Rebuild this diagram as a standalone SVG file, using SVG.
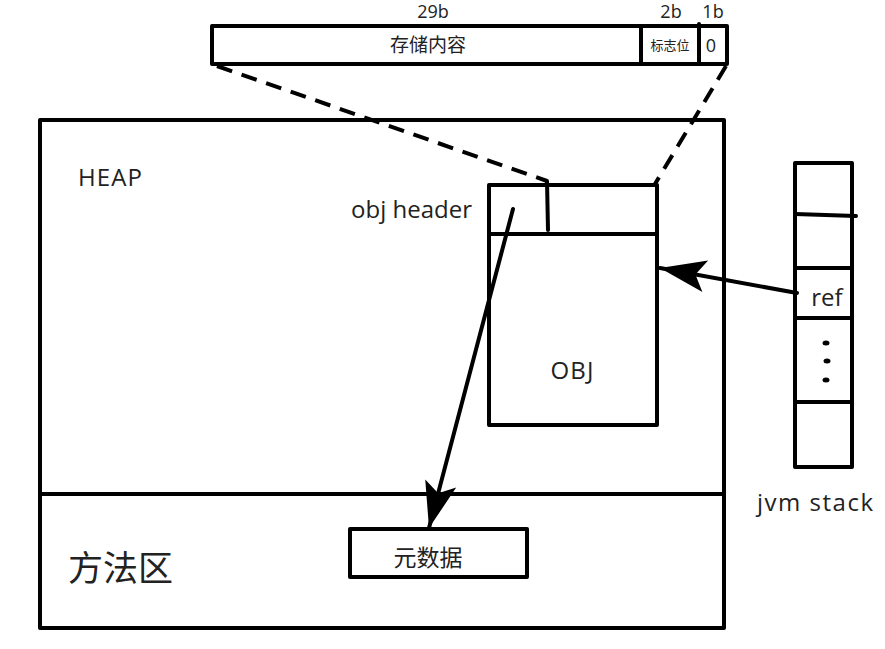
<svg xmlns="http://www.w3.org/2000/svg" width="885" height="649" viewBox="0 0 885 649">
<style>
.b{fill:#fff;stroke:#000;stroke-width:4;stroke-linejoin:round}
.l{fill:none;stroke:#000;stroke-width:4;stroke-linecap:round}
.d{fill:none;stroke:#000;stroke-width:4;stroke-dasharray:16,10}
text{font-family:"Open Sans","Noto Sans CJK SC",sans-serif;fill:#222}
</style>
<defs>
<marker id="ah" markerUnits="userSpaceOnUse" markerWidth="60" markerHeight="40" viewBox="-50 -20 60 40" refX="0" refY="0" orient="auto">
<path d="M0,0 L-46,-16 L-36,0 L-46,16 z" fill="#000"/>
</marker>
</defs>
<rect width="885" height="649" fill="#fff"/>
<g id="markword">
<rect class="b" x="212" y="26" width="515" height="38"/>
<line class="l" x1="641" y1="26" x2="641" y2="64"/>
<line class="l" x1="699" y1="24" x2="699" y2="64"/>
<text x="433" y="18" font-size="18" text-anchor="middle">29b</text>
<text x="671" y="18" font-size="18" text-anchor="middle">2b</text>
<text x="713" y="18" font-size="18" text-anchor="middle">1b</text>
<text x="428" y="52" font-size="19" text-anchor="middle">存储内容</text>
<text x="670" y="50" font-size="13" text-anchor="middle">标志位</text>
<text x="711" y="52" font-size="18" text-anchor="middle">0</text>
</g>
<g id="heap">
<rect class="b" x="40" y="120" width="684" height="508"/>
<line class="l" x1="40" y1="494" x2="724" y2="494"/>
<text x="78" y="186" font-size="24" textLength="64">HEAP</text>
<text x="68" y="581" font-size="35">方法区</text>
</g>
<g id="obj">
<rect class="b" x="489" y="185" width="168" height="240"/>
<line class="l" x1="489" y1="234" x2="657" y2="234"/>
<line class="l" x1="547" y1="181" x2="548" y2="230"/>
<text x="472" y="218" font-size="24" text-anchor="end">obj header</text>
<text x="572" y="379" font-size="24" text-anchor="middle" textLength="43">OBJ</text>
</g>
<g id="metadata">
<rect class="b" x="350" y="529" width="177" height="48"/>
<text x="428" y="566" font-size="23" text-anchor="middle">元数据</text>
</g>
<g id="stack">
<rect class="b" x="795" y="163" width="57" height="304"/>
<line class="l" x1="795" y1="214" x2="856" y2="216"/>
<line class="l" x1="795" y1="268" x2="852" y2="268"/>
<line class="l" x1="795" y1="318" x2="852" y2="318"/>
<line class="l" x1="795" y1="402" x2="852" y2="402"/>
<text x="827" y="306" font-size="24" text-anchor="middle">ref</text>
<g fill="#000">
<ellipse cx="826" cy="343" rx="3.5" ry="2.5"/>
<ellipse cx="827" cy="361" rx="3.5" ry="2.5"/>
<ellipse cx="826" cy="380" rx="3.5" ry="2.5"/>
</g>
<text x="815" y="511" font-size="24" text-anchor="middle" textLength="116">jvm stack</text>
</g>
<g id="connectors">
<line class="d" x1="217" y1="66" x2="547" y2="181"/>
<line class="d" x1="726" y1="66" x2="655" y2="184"/>
<line class="l" x1="513" y1="209" x2="429" y2="528" marker-end="url(#ah)"/>
<line class="l" x1="797" y1="293" x2="660" y2="268" marker-end="url(#ah)"/>
</g>
</svg>
